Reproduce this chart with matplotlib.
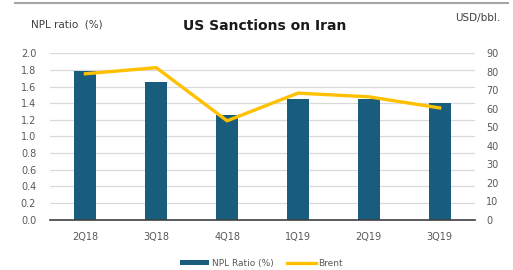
import numpy as np
import matplotlib.pyplot as plt
from matplotlib.lines import Line2D

quarters = ['2Q18', '3Q18', '4Q18', '1Q19', '2Q19', '3Q19']
npl_ratio = [1.79, 1.66, 1.26, 1.45, 1.45, 1.40]
brent = [79.0, 82.3, 53.5, 68.5, 66.5, 60.5]

bar_col = '#185c7e'
line_col = '#ffc000'
txt_col = '#595959'

fig = plt.figure(figsize=(5.13, 2.70), dpi=100)
ax = fig.add_axes([0.0975, 0.187, 0.8285, 0.615])
ax2 = ax.twinx()

x = np.arange(len(quarters))
ax.bar(x, npl_ratio, width=0.31, color=bar_col, label='NPL Ratio (%)', zorder=2)
ax2.plot(x, brent, color=line_col, lw=2.4, label='Brent', zorder=3)

ax.set_xlim(-0.5, 5.5)
ax.set_ylim(0, 2.0)
ax2.set_ylim(0, 90)
ax.set_yticks(np.arange(0, 2.01, 0.2))
ax.set_yticklabels(['%.1f' % v for v in np.arange(0, 2.01, 0.2)])
ax2.set_yticks(np.arange(0, 91, 10))
ax.set_xticks(x)
ax.set_xticklabels(quarters)

ax.grid(axis='y', color='#d9d9d9', lw=0.9, zorder=0)
ax.set_axisbelow(True)
for a in (ax, ax2):
    for s in a.spines.values():
        s.set_visible(False)
    a.tick_params(length=0, labelsize=7, colors=txt_col)
ax.spines['bottom'].set_visible(True)
ax.spines['bottom'].set_color('#404040')
ax.spines['bottom'].set_linewidth(1.2)
ax.tick_params(axis='x', pad=9)
ax.tick_params(axis='y', pad=10)
ax2.tick_params(axis='y', pad=8)
ax2.set_zorder(ax.get_zorder() + 1)
ax2.patch.set_visible(False)

fig.text(0.515, 0.905, 'US Sanctions on Iran', ha='center', va='center',
         fontsize=10, fontweight='bold', color='#1a1a1a')
fig.text(0.06, 0.91, 'NPL ratio  (%)', ha='left', va='center', fontsize=7.5, color='#404040')
fig.text(0.975, 0.935, 'USD/bbl.', ha='right', va='center', fontsize=7.5, color='#404040')

fig.add_artist(Line2D([0.03, 0.99], [0.99, 0.99], color='#a6a6a6', lw=1.5))

h1, l1 = ax.get_legend_handles_labels()
h2, l2 = ax2.get_legend_handles_labels()
fig.legend(h1 + h2, l1 + l2, loc='center', bbox_to_anchor=(0.51, 0.025), ncol=2,
           frameon=False, fontsize=6.5, handlelength=3.2, handleheight=0.5,
           columnspacing=1.5, handletextpad=0.3, labelcolor=txt_col)

plt.savefig('out.png', dpi=100)
